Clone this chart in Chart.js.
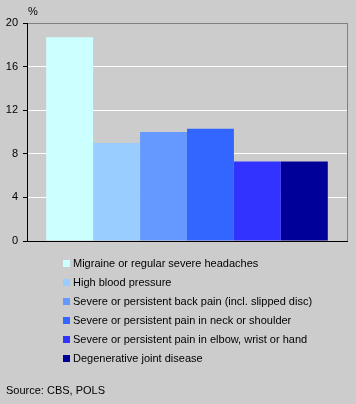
<!DOCTYPE html>
<html>
<head>
<meta charset="utf-8">
<script src="https://cdn.jsdelivr.net/npm/chart.js@4/dist/chart.umd.min.js"></script>
<style>
html,body{margin:0;padding:0;background:#cccccc;}
#wrap{position:relative;width:356px;height:404px;}
</style>
</head>
<body>
<div id="wrap"><canvas id="c" width="356" height="404"></canvas></div>
<script>
const categories = ['Migraine or regular severe headaches','High blood pressure','Severe or persistent back pain (incl. slipped disc)','Severe or persistent pain in neck or shoulder','Severe or persistent pain in elbow, wrist or hand','Degenerative joint disease'];
const values = [18.7, 9.0, 10.0, 10.3, 7.3, 7.3];
const colors = ['#ccffff','#99ccff','#6699ff','#3366ff','#3333ff','#000099'];
const yTicks = [0, 4, 8, 12, 16, 20];
const unitLabel = '%';
const sourceText = 'Source: CBS, POLS';

Chart.defaults.font.family = '"Liberation Sans", Arial, sans-serif';
Chart.defaults.font.size = 11;
Chart.defaults.color = '#000';

const datasets = categories.map((c, i) => ({
  label: c,
  data: [values[i]],
  backgroundColor: colors[i],
  borderWidth: 0,
  categoryPercentage: 0.88,
  barPercentage: 1.0
}));

const deco = {
  id: 'deco',
  beforeDraw(chart) {
    const ctx = chart.ctx;
    ctx.save();
    ctx.fillStyle = '#cccccc';
    ctx.fillRect(0, 0, chart.width, chart.height);
    ctx.restore();
  },
  afterDraw(chart) {
    const ctx = chart.ctx;
    const a = chart.chartArea;
    ctx.save();
    // right border
    ctx.strokeStyle = '#808080';
    ctx.lineWidth = 1;
    ctx.beginPath();
    ctx.moveTo(a.right + 0.5, a.top);
    ctx.lineTo(a.right + 0.5, a.bottom);
    ctx.stroke();
    // unit label
    ctx.fillStyle = '#000';
    ctx.font = '11px "Liberation Sans", Arial, sans-serif';
    ctx.textBaseline = 'middle';
    ctx.textAlign = 'left';
    ctx.fillText(unitLabel, 28, 12);
    // legend
    chart.data.datasets.forEach((ds, i) => {
      const y = 263.5 + i * 19;
      ctx.fillStyle = ds.backgroundColor;
      ctx.fillRect(63, y - 3.5, 7, 7);
      ctx.fillStyle = '#000';
      ctx.fillText(ds.label, 73, y);
    });
    // source
    ctx.fillText(sourceText, 6, 391);
    ctx.restore();
  }
};

new Chart(document.getElementById('c'), {
  type: 'bar',
  data: { labels: [''], datasets },
  options: {
    responsive: false,
    animation: false,
    layout: { padding: { top: 23, right: 9, bottom: 163, left: 0 } },
    plugins: { legend: { display: false }, tooltip: { enabled: false } },
    scales: {
      x: {
        grid: { display: false },
        ticks: { display: false },
        border: { color: '#000', width: 1 },
        afterFit(s) { s.height = 0; }
      },
      y: {
        min: 0, max: 20,
        afterBuildTicks(s) { s.ticks = yTicks.map(v => ({ value: v })); },
        ticks: { padding: 5, color: '#000', font: { size: 11 } },
        grid: {
          color: c => c.tick && c.tick.value === 20 ? '#808080' : (c.tick && c.tick.value === 0 ? '#000' : '#ffffff'),
          tickColor: '#000',
          tickLength: 4,
          lineWidth: 1
        },
        border: { color: '#000', width: 1 },
        afterFit(s) { s.width = 27; }
      }
    }
  },
  plugins: [deco]
});
</script>
</body>
</html>
